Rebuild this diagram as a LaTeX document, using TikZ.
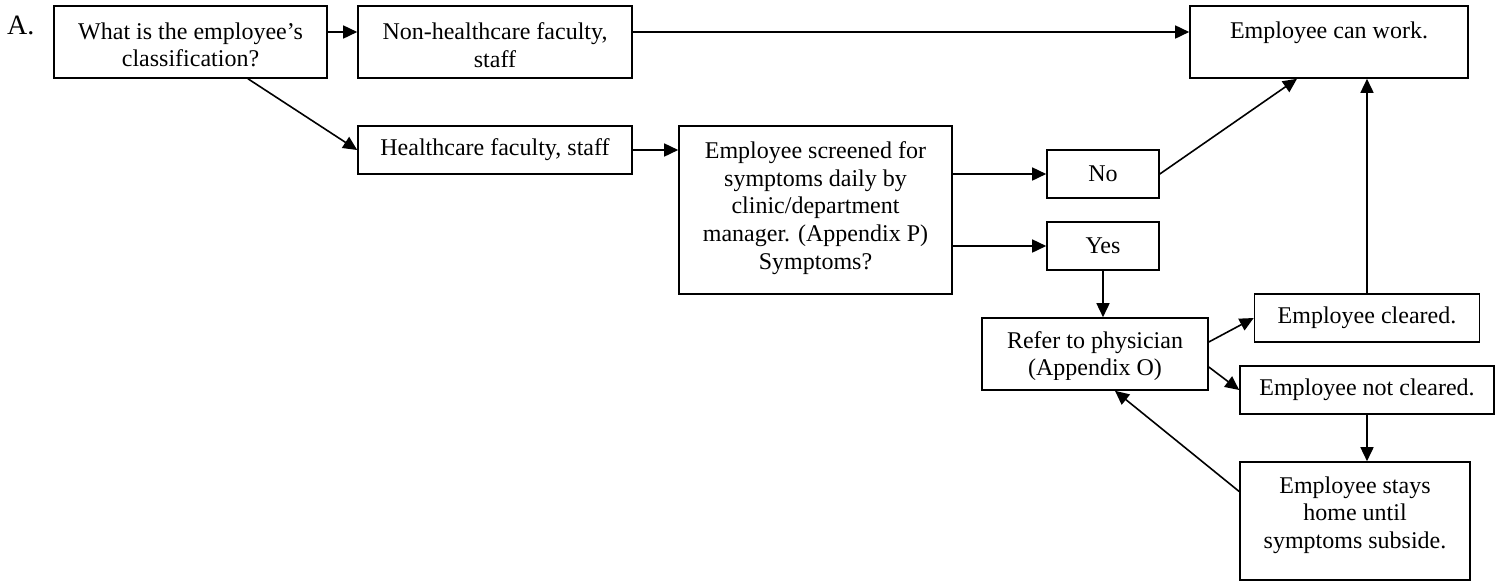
\documentclass[tikz,border=0pt]{standalone}
\usepackage{fontspec}
\setmainfont{Liberation Serif}
\usetikzlibrary{arrows.meta}
\begin{document}
\begin{tikzpicture}[x=1pt,y=-1pt,
  box/.style={draw,line width=1.6pt,rectangle,inner sep=0pt},
  txt/.style={inner sep=0pt,align=center,font=\fontsize{24}{27.6}\selectfont},
  arr/.style={line width=1.6pt,-{Triangle[length=14pt,width=13pt]}}]
\useasboundingbox (0,0) rectangle (1507,582);
\node[anchor=base west,inner sep=0pt,font=\fontsize{28}{32}\selectfont] (lblA) at (7,34) {A.};
% boxes
\node[box,minimum width=273pt,minimum height=72pt] (b1) at (190.5,42) {};
\node[txt] (b1t) at (190.5,45) {What is the employee’s\\classification?};
\node[box,minimum width=274pt,minimum height=72pt] (nh) at (495,42) {};
\node[txt] (nht) at (495,45) {Non-healthcare faculty,\\staff};
\node[box,minimum width=278pt,minimum height=72pt] (cw) at (1329,42) {};
\node[txt] (cwt) at (1329,33) {Employee can work.};
\node[box,txt,minimum width=274pt,minimum height=48pt] (hc) at (495,150) {Healthcare faculty, staff};
\node[box,minimum width=273pt,minimum height=168pt] (sc) at (815.5,210) {};
\node[txt] (sct) at (815.5,208) {Employee screened for\\symptoms daily by\\clinic/department\\manager. (Appendix P)\\Symptoms?};
\node[box,txt,minimum width=112pt,minimum height=48pt] (no) at (1103,174) {No};
\node[box,txt,minimum width=112pt,minimum height=48pt] (yes) at (1103,246) {Yes};
\node[box,minimum width=226pt,minimum height=72pt] (rf) at (1095,354) {};
\begin{scope}
\clip (982,318) rectangle (1208,379);
\node[txt] (rft) at (1095,356) {Refer to physician\\(Appendix O)};
\end{scope}
\node[box,txt,minimum width=225pt,minimum height=48pt] (cl) at (1367,318) {Employee cleared.};
\node[box,txt,minimum width=254pt,minimum height=48pt] (nc) at (1367,390) {Employee not cleared.};
\node[box,minimum width=230pt,minimum height=118pt] (st) at (1355,521) {};
\node[txt] (stt) at (1355,515) {Employee stays\\home until\\symptoms subside.};
% connectors
\draw[arr] ([yshift=10pt]b1.east) -- ([yshift=10pt]nh.west);
\draw[arr] ([xshift=57.5pt]b1.south) -- (hc.west);
\draw[arr] ([yshift=10pt]nh.east) -- ([yshift=10pt]cw.west);
\draw[arr] (hc.east) -- (hc.east -| sc.west);
\draw[arr] (no.west -| sc.east) -- (no.west);
\draw[arr] (yes.west -| sc.east) -- (yes.west);
\draw[arr] (no.east) -- ([xshift=-32pt]cw.south);
\draw[arr] (yes.south) -- (yes.south |- rf.north);
\draw[arr] ([yshift=12pt]rf.east) -- (cl.west);
\draw[arr] ([yshift=-13pt]rf.east) -- (nc.west);
\draw[arr] (nc.south) -- (nc.south |- st.north);
\draw[arr] ([yshift=29.5pt]st.west) -- ([xshift=20pt]rf.south);
\draw[arr] (cl.north) -- (cl.north |- cw.south);
\end{tikzpicture}
\end{document}
